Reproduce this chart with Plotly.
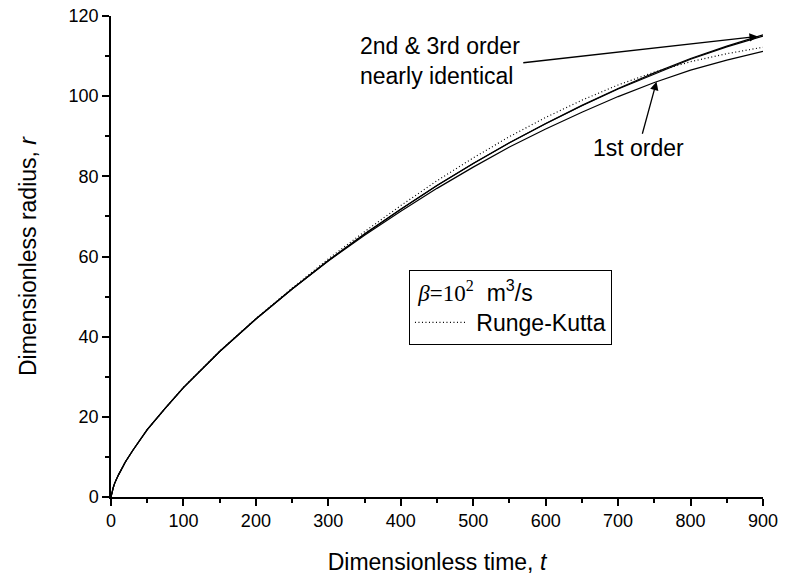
import numpy as np
import plotly.graph_objects as go

# ---- data ----
t = [0, 1, 3, 5, 10, 20, 30, 50, 75, 100, 150, 200, 250, 300, 350, 400, 450,
     500, 550, 600, 650, 700, 750, 800, 850, 900]
r_first = [0, 1.1, 2.3, 3.4, 5.4, 8.8, 11.6, 16.8, 22.2, 27.3, 36.3, 44.4, 51.9,
           58.9, 65.3, 71.3, 77.0, 82.3, 87.3, 91.8, 96.0, 99.9, 103.4, 106.5,
           109.0, 111.2]
r_second = [0, 1.1, 2.3, 3.4, 5.4, 8.8, 11.6, 16.8, 22.2, 27.3, 36.3, 44.4, 51.9,
            59.0, 65.6, 71.8, 77.7, 83.2, 88.4, 93.2, 97.7, 101.9, 105.8, 109.4,
            112.5, 115.3]
r_third = [0, 1.1, 2.3, 3.4, 5.4, 8.8, 11.6, 16.8, 22.2, 27.3, 36.3, 44.4, 51.9,
           59.0, 65.6, 71.8, 77.7, 83.2, 88.4, 93.1, 97.6, 101.8, 105.6, 109.2,
           112.3, 115.0]
r_rk = [0, 1.1, 2.3, 3.4, 5.4, 8.8, 11.6, 16.8, 22.2, 27.4, 36.4, 44.5, 52.1,
        59.4, 66.2, 72.7, 78.9, 84.6, 89.9, 94.7, 99.0, 102.8, 106.0, 108.6,
        110.6, 112.2]

x_ticks = [0, 100, 200, 300, 400, 500, 600, 700, 800, 900]
y_ticks = [0, 20, 40, 60, 80, 100, 120]

FONT = "Arial, 'Liberation Sans', sans-serif"

fig = go.Figure()
line_style = dict(color="black", width=1.2)
for r in (r_first, r_second, r_third):
    fig.add_trace(go.Scatter(x=t, y=r, mode="lines", line=line_style,
                             showlegend=False, hoverinfo="skip"))
fig.add_trace(go.Scatter(x=t, y=r_rk, mode="lines", name="&nbsp;Runge-Kutta",
                         line=dict(color="black", width=1.2, dash="1px,2.5px"),
                         showlegend=True))

axis_common = dict(
    showgrid=False, zeroline=False, showline=True, linecolor="black",
    linewidth=1.5, ticks="outside", ticklen=7, tickwidth=1.5, tickcolor="black",
    tickfont=dict(family=FONT, size=18, color="black"), automargin=False,
    minor=dict(ticks="outside", ticklen=4, tickwidth=1.5, tickcolor="black"),
)
fig.update_xaxes(range=[0, 900], tickvals=x_ticks, minor_dtick=50,
                 title=dict(text="Dimensionless time, <i>t</i>",
                            font=dict(family=FONT, size=23, color="black"),
                            standoff=24),
                 **axis_common)
fig.update_yaxes(range=[0, 120], tickvals=y_ticks, minor_dtick=10,
                 title=dict(text="Dimensionless radius, <i>r</i>",
                            font=dict(family=FONT, size=23, color="black"),
                            standoff=26),
                 **axis_common)

# annotations
tip2_t = 893
tip2_r = float(np.interp(tip2_t, t, r_second))
tip1_t = 753
tip1_r = float(np.interp(tip1_t, t, r_first))
fig.add_annotation(x=341, y=108.7, xref="x", yref="y",
                   text="2nd &amp; 3rd order<br>nearly identical", showarrow=False,
                   xanchor="left", yanchor="middle", align="left",
                   font=dict(family=FONT, size=23, color="black"))
fig.add_annotation(x=tip2_t, y=tip2_r, ax=567, ay=108.3, xref="x", yref="y",
                   axref="x", ayref="y", text="", showarrow=True,
                   arrowhead=2, arrowsize=1.3, arrowwidth=1.3, arrowcolor="black")
fig.add_annotation(x=tip1_t, y=tip1_r, ax=728, ay=87.0, xref="x", yref="y",
                   axref="x", ayref="y", text="1st order", showarrow=True,
                   arrowhead=2, arrowsize=1.3, arrowwidth=1.3, arrowcolor="black",
                   font=dict(family=FONT, size=23, color="black"))

fig.update_layout(
    width=786, height=576,
    margin=dict(l=111, r=23, t=16, b=79),
    paper_bgcolor="white", plot_bgcolor="white",
    font=dict(family=FONT, color="black"),
    legend=dict(
        x=0.457, y=0.472, xanchor="left", yanchor="top",
        bordercolor="black", borderwidth=1, bgcolor="white",
        font=dict(family=FONT, size=23, color="black"),
        title=dict(
            text="&nbsp;<span style='font-family:\"Times New Roman\", \"Liberation Serif\", serif'><i>β</i>=10<sup>2</sup></span>  m<sup>3</sup>/s",
            font=dict(family=FONT, size=23, color="black"), side="top"),
        itemwidth=50, tracegroupgap=0,
    ),
)

fig.write_html("out.html")
